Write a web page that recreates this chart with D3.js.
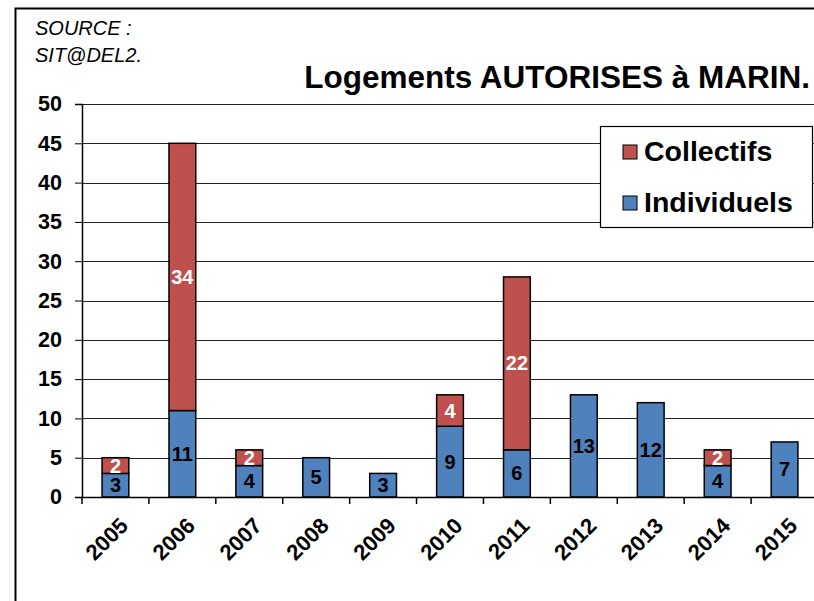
<!DOCTYPE html>
<html>
<head>
<meta charset="utf-8">
<script src="https://cdn.jsdelivr.net/npm/d3@7"></script>
<style>
  body { margin: 0; background: #fff; }
  text { font-family: "Liberation Sans", Arial, sans-serif; }
</style>
</head>
<body>
<div id="chart"></div>
<script>
const years = ['2005', '2006', '2007', '2008', '2009', '2010', '2011', '2012', '2013', '2014', '2015'];
const individuels = [3, 11, 4, 5, 3, 9, 6, 13, 12, 4, 7];
const collectifs = [2, 34, 2, 0, 0, 4, 22, 0, 0, 2, 0];
const yTicks = [0, 5, 10, 15, 20, 25, 30, 35, 40, 45, 50];

const W = 814, H = 601;
const plotLeft = 82, plotRight = 818, plotTop = 104, plotBottom = 497;

const svg = d3.select('#chart').append('svg')
    .attr('width', W)
    .attr('height', H);

// outer frame
svg.append('path')
    .attr('d', `M15.5,${H} L15.5,8.5 L${W},8.5`)
    .attr('fill', 'none')
    .attr('stroke', '#000')
    .attr('stroke-width', 2);

const x = d3.scaleBand().domain(years).range([plotLeft, plotRight]).paddingInner(0.6).paddingOuter(0.3);
const y = d3.scaleLinear().domain([0, 50]).range([plotBottom, plotTop]);

// gridlines
svg.append('g').selectAll('line')
    .data(yTicks.filter(d => d > 0))
    .enter().append('line')
    .attr('x1', plotLeft).attr('x2', W)
    .attr('y1', d => Math.round(y(d)) + 0.5).attr('y2', d => Math.round(y(d)) + 0.5)
    .attr('stroke', '#222')
    .attr('stroke-width', 1);

const stackData = years.map((yr, i) => ({ year: yr, ind: individuels[i], col: collectifs[i] }));

// blue segments
svg.append('g').selectAll('rect')
    .data(stackData)
    .enter().append('rect')
    .attr('x', d => x(d.year))
    .attr('width', x.bandwidth())
    .attr('y', d => y(d.ind))
    .attr('height', d => y(0) - y(d.ind))
    .attr('fill', '#4F81BD')
    .attr('stroke', '#000')
    .attr('stroke-width', 1.5);

// red segments
svg.append('g').selectAll('rect')
    .data(stackData.filter(d => d.col > 0))
    .enter().append('rect')
    .attr('x', d => x(d.year))
    .attr('width', x.bandwidth())
    .attr('y', d => y(d.ind + d.col))
    .attr('height', d => y(d.ind) - y(d.ind + d.col))
    .attr('fill', '#C0504D')
    .attr('stroke', '#000')
    .attr('stroke-width', 1.5);

// value labels
svg.append('g').selectAll('text')
    .data(stackData)
    .enter().append('text')
    .attr('x', d => x(d.year) + x.bandwidth() / 2)
    .attr('y', d => y(d.ind / 2) + 7)
    .attr('text-anchor', 'middle')
    .attr('font-size', 20)
    .attr('font-weight', 'bold')
    .attr('fill', '#000')
    .text(d => d.ind);

svg.append('g').selectAll('text')
    .data(stackData.filter(d => d.col > 0))
    .enter().append('text')
    .attr('x', d => x(d.year) + x.bandwidth() / 2)
    .attr('y', d => y(d.ind + d.col / 2) + 7)
    .attr('text-anchor', 'middle')
    .attr('font-size', 20)
    .attr('font-weight', 'bold')
    .attr('fill', '#fff')
    .text(d => d.col);

// y axis
const yAxis = svg.append('g')
    .attr('transform', `translate(${plotLeft},0)`)
    .call(d3.axisLeft(y).tickValues(yTicks).tickSize(7).tickPadding(13));
yAxis.select('.domain').attr('stroke', '#000').attr('stroke-width', 1.5);
yAxis.selectAll('.tick line').attr('stroke', '#000');
yAxis.selectAll('text')
    .attr('font-size', 21.5)
    .attr('font-weight', 'bold')
    .attr('fill', '#000')
    .attr('font-family', '"Liberation Sans", Arial, sans-serif');

// x axis baseline + ticks between categories
svg.append('line')
    .attr('x1', plotLeft).attr('x2', W)
    .attr('y1', plotBottom + 0.5).attr('y2', plotBottom + 0.5)
    .attr('stroke', '#000').attr('stroke-width', 1.5);
svg.append('g').selectAll('line')
    .data(d3.range(years.length + 1))
    .enter().append('line')
    .attr('x1', i => plotLeft + i * (plotRight - plotLeft) / years.length)
    .attr('x2', i => plotLeft + i * (plotRight - plotLeft) / years.length)
    .attr('y1', plotBottom).attr('y2', plotBottom + 7)
    .attr('stroke', '#000').attr('stroke-width', 1.5);

svg.append('g').selectAll('text')
    .data(years)
    .enter().append('text')
    .attr('transform', d => `translate(${x(d) + x.bandwidth() / 2 + 14},${plotBottom + 30}) rotate(-45)`)
    .attr('text-anchor', 'end')
    .attr('font-size', 22)
    .attr('font-weight', 'bold')
    .attr('fill', '#000')
    .text(d => d);

// title & source
svg.append('text')
    .attr('x', 810).attr('y', 88)
    .attr('text-anchor', 'end')
    .attr('font-size', 31.5)
    .attr('font-weight', 'bold')
    .text('Logements AUTORISES à MARIN.');

svg.append('text')
    .attr('x', 35).attr('y', 35)
    .attr('font-size', 20)
    .attr('font-style', 'italic')
    .text('SOURCE :');
svg.append('text')
    .attr('x', 35).attr('y', 62)
    .attr('font-size', 20)
    .attr('font-style', 'italic')
    .text('SIT@DEL2.');

// legend
const legend = svg.append('g');
legend.append('rect')
    .attr('x', 600.5).attr('y', 126.5)
    .attr('width', 212).attr('height', 101)
    .attr('fill', '#fff')
    .attr('stroke', '#000')
    .attr('stroke-width', 1.2);
const legendItems = [
    { name: 'Collectifs', color: '#C0504D', y: 161 },
    { name: 'Individuels', color: '#4F81BD', y: 212 }
];
legendItems.forEach(item => {
    legend.append('rect')
        .attr('x', 623).attr('y', item.y - 16)
        .attr('width', 14).attr('height', 14)
        .attr('fill', item.color)
        .attr('stroke', '#000')
        .attr('stroke-width', 1);
    legend.append('text')
        .attr('x', 644).attr('y', item.y)
        .attr('font-size', 28.5)
        .attr('font-weight', 'bold')
        .text(item.name);
});
</script>
</body>
</html>
